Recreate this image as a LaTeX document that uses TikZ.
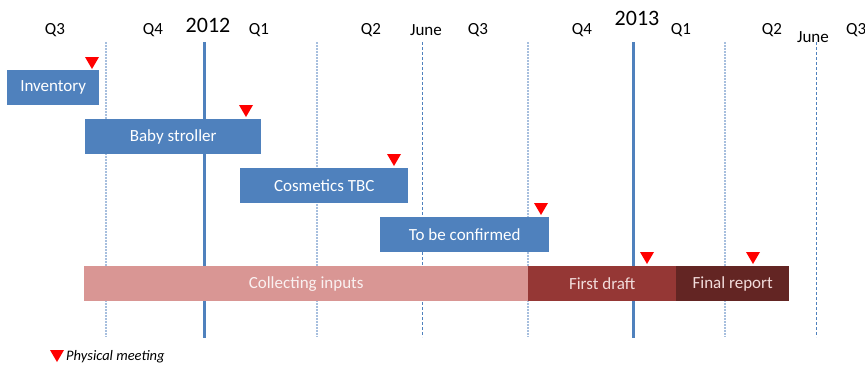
\documentclass[tikz,border=0pt]{standalone}
\usepackage{fontspec}
\setmainfont{Carlito}
\begin{document}
\begin{tikzpicture}[x=1pt,y=-1pt,
  bar/.style={anchor=north west,inner sep=0pt,minimum height=35pt,text=white,font=\fontsize{17}{20}\selectfont},
  bluebar/.style={bar,fill=barblue},
  axlbl/.style={font=\fontsize{17}{20}\selectfont,inner sep=0pt},
  yearlbl/.style={font=\fontsize{22}{26}\selectfont,inner sep=0pt},
  qline/.style={draw=lightblue,line width=1.4pt,dash pattern=on 2pt off 1pt},
  jline/.style={draw=barblue,line width=0.8pt,dash pattern=on 3pt off 2pt},
  yline/.style={draw=barblue,line width=3pt},
  meet/.pic={\fill[red] (-7,0) -- (7,0) -- (0,12) -- cycle;}
]
\definecolor{barblue}{HTML}{4F81BD}
\definecolor{lightblue}{HTML}{A7BFDE}
\definecolor{pinkbar}{HTML}{D99694}
\definecolor{draftbar}{HTML}{953735}
\definecolor{finalbar}{HTML}{632523}
\definecolor{lighttext}{HTML}{F2DCDB}
\useasboundingbox (0,0) rectangle (865,365);
% grid lines
\coordinate (q1t) at (106,42); \coordinate (q1b) at (106,337);
\coordinate (y1t) at (204,42); \coordinate (y1b) at (204,338);
\coordinate (q2t) at (317,42); \coordinate (q2b) at (317,337);
\coordinate (j1t) at (422,42); \coordinate (j1b) at (422,337);
\coordinate (q3t) at (528,42); \coordinate (q3b) at (528,337);
\coordinate (y2t) at (633,42); \coordinate (y2b) at (633,338);
\coordinate (q4t) at (725,42); \coordinate (q4b) at (725,337);
\coordinate (j2t) at (816,42); \coordinate (j2b) at (816,337);
\draw[qline] (q1t) -- (q1b);
\draw[qline] (q2t) -- (q2b);
\draw[qline] (q3t) -- (q3b);
\draw[qline] (q4t) -- (q4b);
\draw[jline] (j1t) -- (j1b);
\draw[jline] (j2t) -- (j2b);
\draw[yline] (y1t) -- (y1b);
\draw[yline] (y2t) -- (y2b);
% axis labels
\node[axlbl] (l1) at (55,30) {Q3};
\node[axlbl] (l2) at (153,30) {Q4};
\node[yearlbl] (l3) at (208,25) {2012};
\node[axlbl] (l4) at (259,30) {Q1};
\node[axlbl] (l5) at (371,30) {Q2};
\node[axlbl] (l6) at (426,30) {June};
\node[axlbl] (l7) at (478,30) {Q3};
\node[axlbl] (l8) at (582,30) {Q4};
\node[yearlbl] (l9) at (637,18) {2013};
\node[axlbl] (l10) at (681,30) {Q1};
\node[axlbl] (l11) at (772,30) {Q2};
\node[axlbl] (l12) at (813,37) {June};
\node[axlbl,anchor=west] (l13) at (846,30) {Q3};
% bars
\node[bluebar,minimum width=92pt] (inv) at (7,70) {Inventory};
\node[bluebar,minimum width=176pt] (baby) at (85,119) {Baby stroller};
\node[bluebar,minimum width=168pt] (cos) at (240,168) {Cosmetics TBC};
\node[bluebar,minimum width=169pt] (tbc) at (380,217) {To be confirmed};
\node[bar,fill=pinkbar,minimum width=444pt,text=lighttext!40!white] (col) at (84,266) {Collecting inputs};
\node[bar,fill=draftbar,minimum width=148pt,text=lighttext] (draft) at (528,266) {First draft};
\node[bar,fill=finalbar,minimum width=113pt,text=lighttext] (final) at (676,266) {Final report};
% meetings
\pic at (92,57) {meet};
\pic at (246,105) {meet};
\pic at (394,154) {meet};
\pic at (541,203) {meet};
\pic at (647,252) {meet};
\pic at (753,252) {meet};
% legend
\pic at (57,350) {meet};
\node[anchor=west,inner sep=0pt,font=\fontsize{14.5}{17}\selectfont\itshape] (leg) at (66,357) {Physical meeting};
\end{tikzpicture}
\end{document}
